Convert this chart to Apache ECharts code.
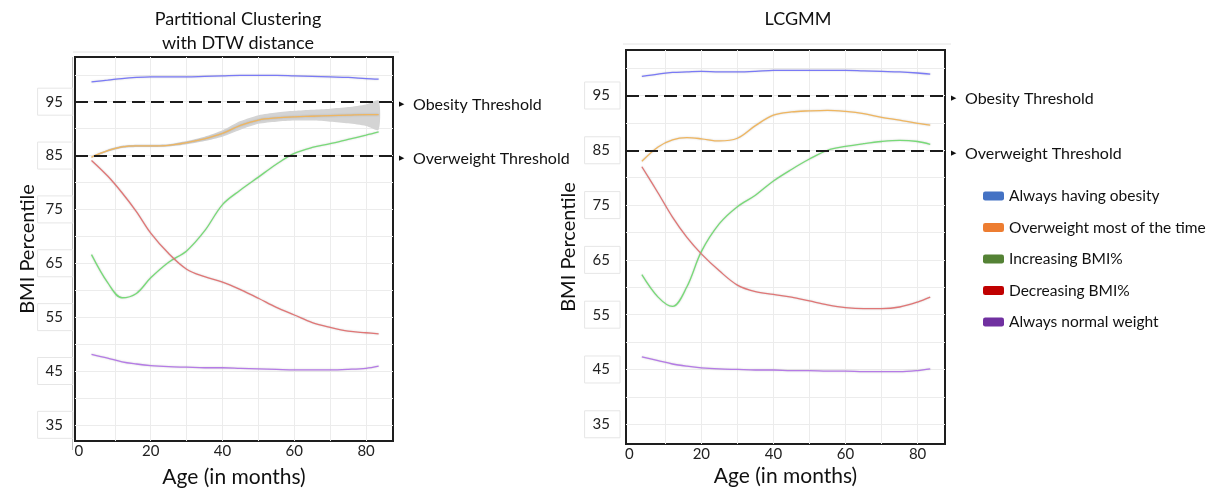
<!DOCTYPE html>
<html>
<head>
<meta charset="utf-8">
<title>BMI percentile trajectories</title>
<script src="https://cdn.jsdelivr.net/npm/echarts@6/dist/echarts.min.js"></script>
<style>
  html, body { margin: 0; padding: 0; background: #fff; }
  #chart { width: 1212px; height: 493px; }
</style>
</head>
<body>
<div id="chart"></div>
<script>
var ages = [3.5, 8, 12, 16, 20, 25, 30, 35, 40, 45, 50, 55, 60, 65, 70, 75, 80, 83.5]

// Partitional clustering with DTW distance
var dtwObese      = [98.7, 99.0, 99.3, 99.5, 99.6, 99.6, 99.6, 99.7, 99.8, 99.9, 99.9, 99.9, 99.8, 99.7, 99.6, 99.5, 99.3, 99.2]
var dtwOverweight = [84.7, 85.9, 86.6, 86.8, 86.8, 86.9, 87.4, 88.1, 89.1, 90.6, 91.6, 92.0, 92.2, 92.3, 92.4, 92.5, 92.6, 92.6]
var dtwOwLow      = [84.6, 85.7, 86.4, 86.6, 86.6, 86.7, 87.1, 87.7, 88.5, 89.8, 90.9, 91.3, 91.5, 91.5, 91.3, 91.0, 90.5, 89.8]
var dtwOwHigh     = [84.8, 86.1, 86.8, 87.0, 87.0, 87.1, 87.7, 88.5, 89.7, 91.4, 92.5, 93.0, 93.3, 93.5, 93.7, 94.0, 94.5, 95.2]
var dtwIncreasing = [66.6, 61.4, 58.6, 59.4, 62.3, 65.2, 67.3, 71.0, 75.9, 78.6, 81.0, 83.4, 85.4, 86.5, 87.2, 88.0, 88.8, 89.4]
var dtwDecreasing = [84.1, 81.2, 78.1, 74.6, 70.6, 66.8, 63.9, 62.5, 61.5, 60.1, 58.5, 56.8, 55.4, 54.0, 53.1, 52.4, 52.1, 51.9]
var dtwNormal     = [48.1, 47.4, 46.7, 46.3, 46.0, 45.8, 45.7, 45.6, 45.6, 45.5, 45.4, 45.3, 45.2, 45.2, 45.2, 45.3, 45.5, 45.9]

// LCGMM
var lcObese      = [98.5, 98.9, 99.2, 99.3, 99.4, 99.3, 99.3, 99.4, 99.6, 99.6, 99.6, 99.6, 99.6, 99.5, 99.4, 99.3, 99.1, 98.9]
var lcOverweight = [83.0, 85.6, 86.9, 87.3, 87.1, 86.7, 87.2, 89.5, 91.4, 92.0, 92.2, 92.3, 92.1, 91.7, 91.0, 90.5, 89.9, 89.6]
var lcIncreasing = [62.3, 58.2, 56.5, 60.1, 66.5, 71.6, 74.7, 76.8, 79.4, 81.5, 83.4, 85.0, 85.7, 86.2, 86.6, 86.8, 86.6, 86.1]
var lcDecreasing = [82.0, 77.2, 72.8, 69.1, 66.1, 63.0, 60.4, 59.2, 58.7, 58.2, 57.5, 56.8, 56.3, 56.1, 56.1, 56.4, 57.3, 58.2]
var lcNormal     = [47.3, 46.6, 46.0, 45.6, 45.3, 45.1, 45.0, 44.9, 44.9, 44.8, 44.8, 44.7, 44.7, 44.6, 44.6, 44.6, 44.8, 45.1]

var clusterNames = ['Always having obesity', 'Overweight most of the time', 'Increasing BMI%', 'Decreasing BMI%', 'Always normal weight']
var lineColors   = ['#7a7af6', '#efb660', '#78da78', '#e07676', '#b57be6']
var legendColors = ['#4472c4', '#ed7d31', '#548235', '#c00000', '#7030a0']

var thresholds = [{ value: 95, label: 'Obesity Threshold' }, { value: 85, label: 'Overweight Threshold' }]
var yLabels = [35, 45, 55, 65, 75, 85, 95]
var yGrid   = [35, 40, 45, 50, 55, 60, 65, 70, 75, 80, 85, 90, 95, 100]
var xLabels = [0, 20, 40, 60, 80]
var xGrid   = [10, 20, 30, 40, 50, 60, 70, 80]

var FONT = 'Lato, "Open Sans", sans-serif'

function pairs(vals) {
  return ages.map(function (a, i) { return [a, vals[i]] })
}

function makeXAxis(idx, min, max, gap) {
  return {
    type: 'value', gridIndex: idx, min: min, max: max,
    name: 'Age (in months)', nameLocation: 'middle', nameGap: gap, nameMoveOverlap: false,
    nameTextStyle: { fontSize: 21, color: '#111', fontFamily: FONT },
    axisLine: { show: false },
    axisTick: { show: false, customValues: xGrid },
    axisLabel: { customValues: xLabels, fontSize: 15, color: '#222', margin: 3, fontFamily: FONT },
    splitLine: { show: true, lineStyle: { color: '#ececec', width: 1 } }
  }
}

function makeYAxis(idx, min, max, gap, margin) {
  return {
    type: 'value', gridIndex: idx, min: min, max: max,
    name: 'BMI Percentile', nameLocation: 'middle', nameGap: gap, nameRotate: 90, nameMoveOverlap: false,
    nameTextStyle: { fontSize: 20, color: '#111', fontFamily: FONT },
    axisLine: { show: false },
    axisTick: { show: false, customValues: yGrid },
    axisLabel: {
      customValues: yLabels, fontSize: 15, color: '#222', margin: margin, fontFamily: FONT,
      padding: [6, 10, 6, 8], borderColor: '#e6e6e6', borderWidth: 1
    },
    splitLine: { show: true, lineStyle: { color: '#ececec', width: 1 } }
  }
}

function thresholdMarks() {
  return {
    silent: true,
    symbol: ['none', 'none'],
    lineStyle: { color: '#1c1c1c', width: 2, type: [13, 6] },
    label: {
      position: 'end', distance: 6, padding: [7, 0, 0, 0],
      formatter: function (p) { return '{a|\u25B6}{t|' + p.name + '}' },
      rich: {
        a: { fontSize: 7, color: '#111', padding: [0, 9, 2, 0] },
        t: { fontSize: 16, color: '#111', fontFamily: FONT }
      }
    },
    data: thresholds.map(function (t) { return { yAxis: t.value, name: t.label } })
  }
}

function clusterSeries(idx, sets) {
  return sets.map(function (vals, k) {
    var s = {
      name: clusterNames[k], type: 'line', xAxisIndex: idx, yAxisIndex: idx,
      data: pairs(vals), smooth: 0.35, symbol: 'none', z: 3,
      lineStyle: {
        color: lineColors[k], width: 1.3,
        shadowColor: 'rgba(0,0,0,0.2)', shadowBlur: 2
      },
      itemStyle: { color: lineColors[k] }
    }
    if (k === 0) s.markLine = thresholdMarks()
    return s
  })
}

// grey confidence band around the DTW "overweight" curve
var bandSeries = {
  type: 'custom', xAxisIndex: 0, yAxisIndex: 0, silent: true, z: 2,
  data: [[40, 90]],
  renderItem: function (params, api) {
    var upper = ages.map(function (a, i) { return api.coord([a, dtwOwHigh[i]]) })
    var lower = ages.map(function (a, i) { return api.coord([a, dtwOwLow[i]]) }).reverse()
    return {
      type: 'polygon',
      shape: { points: upper.concat(lower), smooth: 0.25 },
      style: { fill: '#d4d4d4' }
    }
  }
}

var series = [bandSeries]
  .concat(clusterSeries(0, [dtwObese, dtwOverweight, dtwIncreasing, dtwDecreasing, dtwNormal]))
  .concat(clusterSeries(1, [lcObese, lcOverweight, lcIncreasing, lcDecreasing, lcNormal]))

var chart = echarts.init(document.getElementById('chart'), null, { renderer: 'canvas' })

var option = {
  animation: false,
  backgroundColor: '#fff',
  textStyle: { fontFamily: FONT },
  title: [
    {
      text: 'Partitional Clustering\nwith DTW distance', left: 233, top: 2, textAlign: 'center',
      textStyle: { fontSize: 18, fontWeight: 'normal', color: '#111', lineHeight: 24, fontFamily: FONT }
    },
    {
      text: 'LCGMM', left: 793, top: 2, textAlign: 'center',
      textStyle: { fontSize: 18, fontWeight: 'normal', color: '#111', lineHeight: 24, fontFamily: FONT }
    }
  ],
  legend: {
    orient: 'vertical', left: 978, top: 183,
    icon: 'roundRect', itemWidth: 21, itemHeight: 9, itemGap: 15.5,
    itemStyle: { borderWidth: 0 },
    textStyle: { fontSize: 15.5, color: '#111', lineHeight: 16, fontFamily: FONT },
    selectedMode: false,
    data: clusterNames.map(function (n, k) { return { name: n, itemStyle: { color: legendColors[k] } } })
  },
  grid: [
    { left: 75, top: 57, width: 318, height: 392, show: true, borderColor: '#1e1e1e', borderWidth: 2, backgroundColor: '#fff' },
    { left: 626, top: 50, width: 319, height: 394, show: true, borderColor: '#1e1e1e', borderWidth: 2, backgroundColor: '#fff' }
  ],
  xAxis: [makeXAxis(0, -1.1, 87.5, 26), makeXAxis(1, -0.9, 87.6, 22)],
  yAxis: [makeYAxis(0, 32, 103.3, 37, 2), makeYAxis(1, 31.4, 103.3, 47, 6)],
  graphic: [
    { type: 'line', shape: { x1: 73, y1: 52, x2: 399, y2: 52 }, style: { stroke: '#e4e4e4', lineWidth: 1 }, silent: true },
    { type: 'line', shape: { x1: 623, y1: 44, x2: 951, y2: 44 }, style: { stroke: '#e4e4e4', lineWidth: 1 }, silent: true },
    { type: 'line', shape: { x1: 72.5, y1: 57, x2: 72.5, y2: 450 }, style: { stroke: '#bdbdbd', lineWidth: 1 }, silent: true }
  ],
  series: series
}

chart.setOption(option)
</script>
</body>
</html>
